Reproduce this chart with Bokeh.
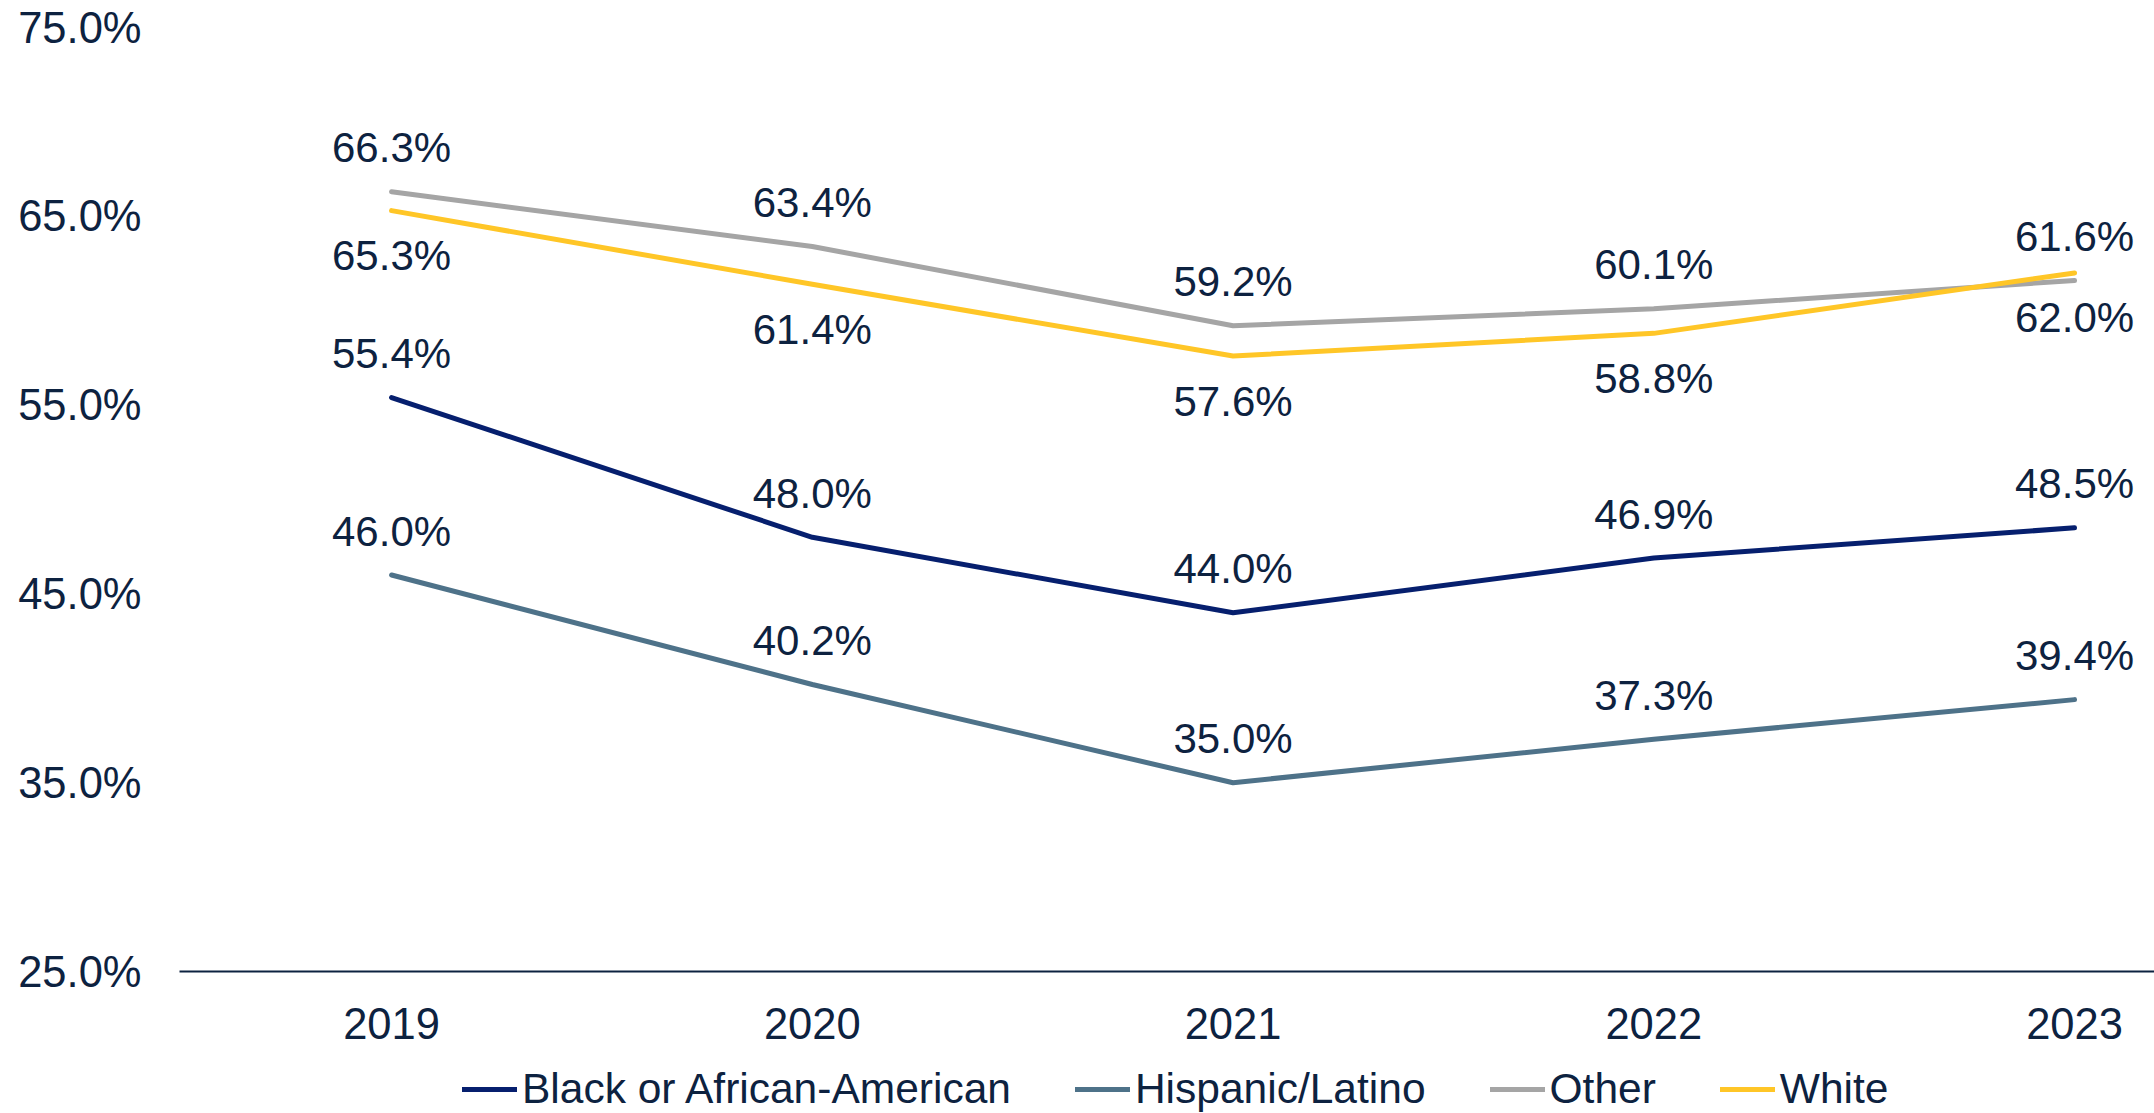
from bokeh.plotting import figure
from bokeh.layouts import column
from bokeh.models import Range1d, FixedTicker, Legend, LegendItem, ColumnDataSource
from bokeh.embed import file_html
from bokeh.resources import INLINE
from bokeh.core.properties import value

years = ["2019", "2020", "2021", "2022", "2023"]
black = [55.4, 48.0, 44.0, 46.9, 48.5]
hispanic = [46.0, 40.2, 35.0, 37.3, 39.4]
other = [66.3, 63.4, 59.2, 60.1, 61.6]
white = [65.3, 61.4, 57.6, 58.8, 62.0]
series_names = ["Black or African-American", "Hispanic/Latino", "Other", "White"]
y_ticks = [25, 35, 45, 55, 65, 75]
y_tick_labels = ["25.0%", "35.0%", "45.0%", "55.0%", "65.0%", "75.0%"]

TXT = "#0D2240"
FONT = "Liberation Sans"
colors = ["#061F6E", "#4E7289", "#A5A5A5", "#FFC627"]

xs = list(range(len(years)))

p = figure(width=2154, height=1050, output_backend="svg", toolbar_location=None,
           x_range=Range1d(-0.504, 4.19), y_range=Range1d(25, 75),
           min_border_left=179, min_border_right=0, min_border_top=27,
           min_border_bottom=79)
p.outline_line_color = None
p.xgrid.grid_line_color = None
p.ygrid.grid_line_color = None

series = [black, hispanic, other, white]
label_off = [-44, -44, -44, 45]
for vals, col in zip(series, colors):
    p.line(xs, vals, line_color=col, line_width=5, line_cap="round", line_join="round")
for vals, off in zip(series, label_off):
    src = ColumnDataSource(dict(x=xs, y=vals, t=[f"{v:.1f}%" for v in vals]))
    p.text("x", "y", text="t", source=src, y_offset=off, text_align="center",
           text_baseline="middle", text_font=value(FONT), text_font_size="42px",
           text_color=TXT)

p.xaxis.ticker = FixedTicker(ticks=xs)
p.xaxis.major_label_overrides = {i: y for i, y in enumerate(years)}
p.xaxis.axis_line_color = TXT
p.xaxis.axis_line_width = 2
p.xaxis.major_tick_line_color = None
p.xaxis.minor_tick_line_color = None
p.xaxis.major_label_standoff = 30
p.xaxis.major_label_text_font = FONT
p.xaxis.major_label_text_font_size = "43.5px"
p.xaxis.major_label_text_color = TXT

p.yaxis.ticker = FixedTicker(ticks=y_ticks)
p.yaxis.major_label_overrides = {t: l for t, l in zip(y_ticks, y_tick_labels)}
p.yaxis.axis_line_color = None
p.yaxis.major_tick_line_color = None
p.yaxis.minor_tick_line_color = None
p.yaxis.major_label_standoff = 32
p.yaxis.major_label_text_font = FONT
p.yaxis.major_label_text_font_size = "43.5px"
p.yaxis.major_label_text_color = TXT

# legend strip below the chart (its frame is aligned with the chart's frame)
p2 = figure(width=2154, height=63, output_backend="svg", toolbar_location=None,
            x_axis_type=None, y_axis_type=None, min_border=0,
            min_border_left=179, min_border_right=0,
            x_range=Range1d(0, 1), y_range=Range1d(0, 1))
p2.outline_line_color = None
p2.xgrid.grid_line_color = None
p2.ygrid.grid_line_color = None
# keys for the legend: lines kept outside the visible range of this strip
leg_renderers = [p2.line([0, 1], [-5, -5], line_color=c, line_width=5, line_cap="round")
                 for c in colors]
legend = Legend(items=[LegendItem(label=n, renderers=[r]) for n, r in zip(series_names, leg_renderers)],
                orientation="horizontal", location=(283, 0),
                label_text_font=FONT, label_text_font_size="42.5px", label_text_color=TXT,
                glyph_width=55, glyph_height=30, label_standoff=5, spacing=64,
                padding=0, margin=0, border_line_color=None, background_fill_alpha=0)
p2.add_layout(legend, "center")

open("out.html", "w").write(file_html(column(p, p2, spacing=0), INLINE))
